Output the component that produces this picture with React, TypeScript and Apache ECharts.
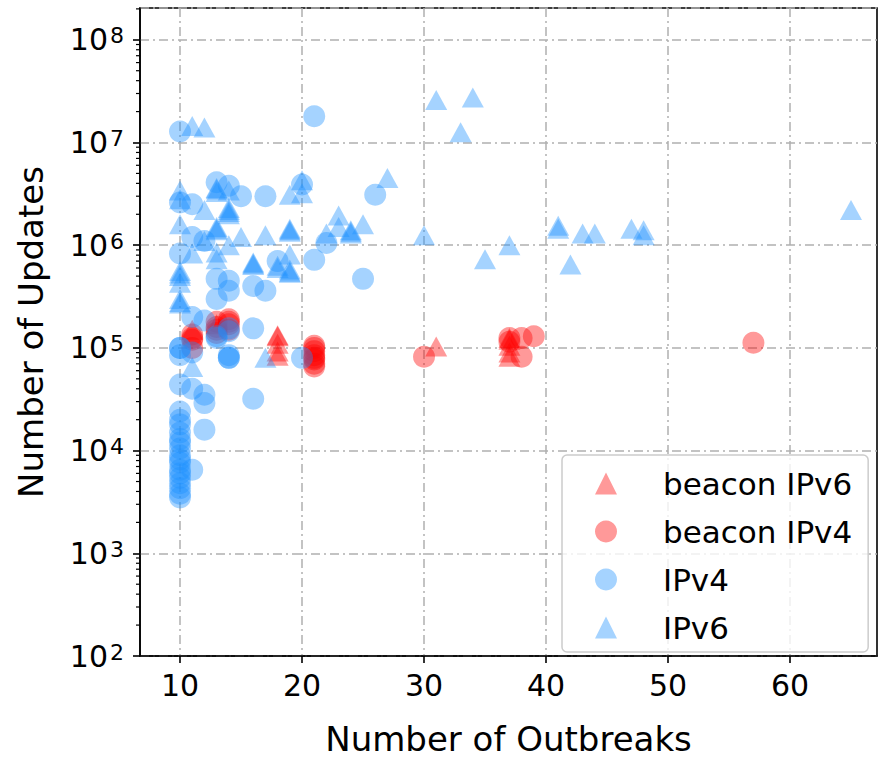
import React, { useEffect, useRef } from "react";
import * as echarts from "echarts";

// ---------- data ----------
const seriesNames = ["beacon IPv6", "beacon IPv4", "IPv4", "IPv6"];

const beaconIPv6: [number, number][] = [
  [11, 1.5e5], [13, 1.7e5], [18, 1.33e5], [18, 1.3e5], [18, 1.1e5], [18, 9.2e4], [18, 8.4e4],
  [31, 1.03e5], [37, 1.25e5], [37, 1.2e5], [37, 1.05e5], [37, 9.0e4], [37, 8.2e4],
];

const beaconIPv4: [number, number][] = [
  [11, 1.35e5], [11, 1.25e5], [11, 1.2e5], [11, 1.0e5],
  [13, 1.8e5], [13, 1.6e5], [13, 1.5e5], [13, 1.4e5],
  [14, 1.9e5], [14, 1.8e5], [14, 1.7e5], [14, 1.5e5],
  [21, 1.05e5], [21, 1.0e5], [21, 9.3e4], [21, 8.5e4], [21, 8.0e4], [21, 7.7e4], [21, 7.0e4], [21, 6.6e4],
  [30, 8.2e4], [37, 1.25e5], [37, 1.15e5], [38, 1.25e5], [38, 8.2e4], [39, 1.3e5],
  [57, 1.12e5],
];

const ipv4: [number, number][] = [
  [10, 1.28e7], [10, 2.6e6], [10, 8.3e5], [10, 1.0e5], [10, 1.0e5], [10, 8.5e4], [10, 4.4e4],
  [10, 2.4e4], [10, 2.0e4], [10, 1.8e4], [10, 1.5e4], [10, 1.3e4], [10, 1.2e4], [10, 1.05e4],
  [10, 9.0e3], [10, 8.2e3], [10, 7.6e3], [10, 6.5e3], [10, 6.0e3], [10, 5.4e3], [10, 4.8e3],
  [10, 4.3e3], [10, 3.8e3], [10, 3.5e3],
  [11, 2.5e6], [11, 1.2e6], [11, 2.0e5], [11, 9.0e4], [11, 4.0e4], [11, 6.5e3],
  [12, 1.1e6], [12, 1.85e5], [12, 3.5e4], [12, 2.9e4], [12, 1.6e4],
  [13, 4.1e6], [13, 4.7e5], [13, 3.0e5], [13, 1.3e5], [13, 1.25e5],
  [14, 3.8e6], [14, 4.5e5], [14, 3.6e5], [14, 1.55e5], [14, 1.45e5], [14, 8.5e4], [14, 8.0e4], [14, 8.0e4],
  [15, 3.0e6],
  [16, 4.0e5], [16, 1.55e5], [16, 3.2e4],
  [17, 3.0e6], [17, 3.6e5],
  [18, 7.0e5],
  [20, 3.9e6], [20, 8.0e4],
  [21, 1.8e7], [21, 7.2e5],
  [22, 1.05e6], [25, 4.7e5], [26, 3.1e6],
];

const ipv6: [number, number][] = [
  [10, 3.4e6], [10, 2.8e6], [10, 1.6e6], [10, 5.6e5], [10, 5.3e5], [10, 5.0e5], [10, 4.3e5],
  [10, 3.0e5], [10, 2.8e5], [10, 2.7e5],
  [11, 1.45e7], [12, 1.4e7], [11, 8.3e5], [11, 6.5e4],
  [12, 2.2e6], [12, 1.1e6],
  [13, 3.6e6], [13, 3.5e6], [13, 3.3e6], [13, 1.5e6], [13, 1.45e6], [13, 1.4e6], [13, 8.5e5], [13, 7.3e5],
  [14, 3.4e6], [14, 2.3e6], [14, 2.2e6], [14, 2.1e6], [14, 2.0e6], [14, 1.0e6],
  [15, 1.2e6], [16, 6.8e5], [16, 6.6e5], [16, 6.4e5],
  [17, 1.25e6], [17, 8.0e4], [18, 6.3e5], [18, 6.0e5],
  [19, 3.1e6], [19, 1.45e6], [19, 1.4e6], [19, 1.35e6], [19, 8.1e5], [19, 5.8e5], [19, 5.5e5], [19, 5.4e5],
  [20, 4.3e6], [20, 3.2e6],
  [22, 1.3e6], [23, 1.95e6], [23, 1.5e6], [24, 1.4e6], [24, 1.35e6], [24, 1.3e6], [25, 1.6e6],
  [27, 4.5e6],
  [30, 1.25e6], [31, 2.6e7], [33, 1.26e7], [34, 2.75e7],
  [35, 7.3e5], [37, 1.0e6],
  [41, 1.55e6], [41, 1.45e6], [42, 6.5e5], [43, 1.3e6], [44, 1.3e6],
  [47, 1.45e6], [48, 1.4e6], [48, 1.25e6],
  [65, 2.2e6],
];

const xTickValues = [10, 20, 30, 40, 50, 60];
const minorMultipliers = [2, 3, 4, 5, 6, 7, 8, 9];
const decades = [1e2, 1e3, 1e4, 1e5, 1e6, 1e7, 1e8];

const X_MIN = 6.72;
const X_MAX = 67.13;
const Y_MIN = 1e2;
const Y_MAX = 2.04e8;

const RED = "rgba(255,0,0,0.5)";
const BLUE = "rgba(30,144,255,0.5)";
const FONT = "DejaVu Sans";

export default function App() {
  const ref = useRef<HTMLDivElement>(null);

  useEffect(() => {
    if (!ref.current) return;
    const chart = echarts.init(ref.current, undefined, { renderer: "svg" });

    const minorTicks: [number, number][] = [];
    decades.forEach((d) =>
      minorMultipliers.forEach((m) => {
        const v = d * m;
        if (v < Y_MAX) minorTicks.push([X_MIN, v]);
      })
    );

    const scatter = (name: string, data: [number, number][], symbol: string, color: string) => ({
      name,
      type: "scatter",
      data,
      symbol,
      symbolSize: symbol === "triangle" ? [22, 20] : 22,
      itemStyle: { color, borderWidth: 0 },
      emphasis: { disabled: true },
      z: 3,
    });

    chart.setOption({
      animation: false,
      textStyle: { fontFamily: FONT },
      grid: {
        left: 140,
        right: 2,
        top: 8,
        bottom: 95,
        show: true,
        borderColor: "#000",
        borderWidth: 1.6,
        backgroundColor: "transparent",
      },
      legend: {
        data: seriesNames.map((n) => ({ name: n })),
        orient: "vertical",
        left: 562,
        top: 455,
        padding: [13, 16, 9, 33],
        itemWidth: 22,
        itemHeight: 22,
        itemGap: 17,
        backgroundColor: "rgba(255,255,255,0.8)",
        borderColor: "#cccccc",
        borderWidth: 1.5,
        borderRadius: 5,
        textStyle: {
          fontFamily: FONT,
          fontSize: 31,
          lineHeight: 30,
          color: "#000",
          padding: [0, 0, 0, 41],
        },
        selectedMode: false,
      },
      xAxis: {
        type: "value",
        min: X_MIN,
        max: X_MAX,
        name: "Number of Outbreaks",
        nameLocation: "middle",
        nameGap: 66,
        nameTextStyle: { fontFamily: FONT, fontSize: 34, color: "#000" },
        axisLine: { show: true, onZero: false, lineStyle: { color: "#000", width: 1.6 } },
        axisTick: {
          show: true,
          inside: false,
          length: 7,
          customValues: xTickValues,
          lineStyle: { color: "#000", width: 1.6 },
        },
        axisLabel: {
          customValues: xTickValues,
          fontFamily: FONT,
          fontSize: 30,
          color: "#000",
          margin: 14,
        },
        splitLine: {
          show: true,
          lineStyle: { color: "#b0b0b0", width: 1.5, type: [9, 4, 2, 4] },
        },
      },
      yAxis: {
        type: "log",
        logBase: 10,
        min: Y_MIN,
        max: Y_MAX,
        name: "Number of Updates",
        nameLocation: "middle",
        nameGap: 92,
        nameTextStyle: { fontFamily: FONT, fontSize: 34, color: "#000" },
        axisLine: { show: true, lineStyle: { color: "#000", width: 1.6 } },
        axisTick: { show: true, inside: false, length: 7, lineStyle: { color: "#000", width: 1.6 } },
        axisLabel: {
          fontFamily: FONT,
          color: "#000",
          margin: 16,
          showMaxLabel: false,
          formatter: (v: number) => {
            const e = String(Math.round(Math.log10(v)));
            return "{b|10}{s|" + e + "}";
          },
          rich: {
            b: {
              fontFamily: FONT,
              fontSize: 30,
              lineHeight: 30,
              color: "#000",
              padding: [10, 0, 0, 0],
              verticalAlign: "bottom",
            },
            s: {
              fontFamily: FONT,
              fontSize: 22,
              lineHeight: 22,
              color: "#000",
              padding: [0, 0, 0, 2],
              verticalAlign: "top",
            },
          },
        },
        splitLine: {
          show: true,
          lineStyle: { color: "#b0b0b0", width: 1.5, type: [9, 4, 2, 4] },
        },
      },
      series: [
        scatter("beacon IPv6", beaconIPv6, "triangle", RED),
        scatter("beacon IPv4", beaconIPv4, "circle", RED),
        scatter("IPv4", ipv4, "circle", BLUE),
        scatter("IPv6", ipv6, "triangle", BLUE),
        {
          name: "minorTicks",
          type: "custom",
          data: minorTicks,
          clip: false,
          silent: true,
          z: 5,
          renderItem: (params: any, api: any) => {
            const p = api.coord([X_MIN, api.value(1)]);
            return {
              type: "line",
              shape: { x1: p[0] - 4, y1: p[1], x2: p[0], y2: p[1] },
              style: { stroke: "#000", lineWidth: 1.2 },
            };
          },
        },
      ],
    });

    return () => chart.dispose();
  }, []);

  return (
    <div
      ref={ref}
      style={{ position: "fixed", left: 0, top: 0, width: 879, height: 761, background: "#fff" }}
    />
  );
}
